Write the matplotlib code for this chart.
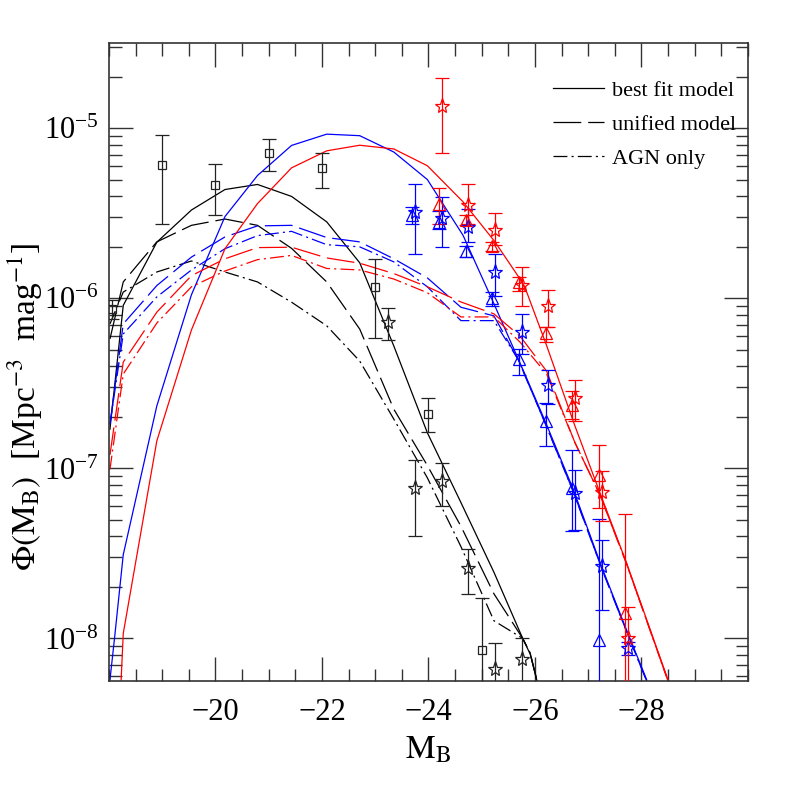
import numpy as np
import matplotlib
matplotlib.use("Agg")
import matplotlib.pyplot as plt
from matplotlib.lines import Line2D
from matplotlib.ticker import FixedLocator, MultipleLocator, LogLocator, LogFormatterMathtext, NullFormatter

plt.rcParams["font.family"] = ["Liberation Serif", "DejaVu Serif"]
plt.rcParams["mathtext.fontset"] = "stix"
plt.rcParams["lines.scale_dashes"] = False

# ---- model curves (M_B, Phi) ----
m_grid = [-18.02, -18.27, -18.90, -19.55, -20.18, -20.79, -21.43, -22.09,
          -22.71, -23.35, -23.98, -24.61, -25.23, -25.77, -25.91, -26.04]
blk_best = [1.70e-7, 9.1e-7, 2.14e-6, 3.31e-6, 4.37e-6, 4.68e-6, 3.98e-6, 2.82e-6,
            1.62e-6, 5.25e-7, 1.62e-7, 6.3e-8, 2.45e-8, 1.0e-8, 8.1e-9, 5.6e-9]
blk_unif = [5.77e-7, 1.25e-6, 2.15e-6, 2.69e-6, 2.93e-6, 2.69e-6, 1.97e-6, 1.25e-6,
            6.6e-7, 2.23e-7, 1.04e-7, 4.57e-8, 1.83e-8, 1.0e-8, 8.2e-9, 5.6e-9]
blk_agn = [7.08e-7, 1.09e-6, 1.43e-6, 1.66e-6, 1.43e-6, 1.25e-6, 9.5e-7, 6.9e-7,
           4.28e-7, 1.95e-7, 8.8e-8, 3.47e-8, 1.27e-8, 1.0e-8, 8.2e-9, 5.6e-9]

m_blue_best = [-18.02, -18.11, -18.27, -18.90, -19.55, -20.18, -20.79, -21.43, -22.09, -22.71,
               -23.35, -23.98, -24.65, -25.23, -25.77, -26.19, -26.72, -27.25, -27.72, -28.10]
blue_best = [5.69e-9, 1.03e-8, 3.11e-8, 2.33e-7, 1.05e-6, 3.03e-6, 5.28e-6, 7.94e-6, 9.25e-6, 9.06e-6,
             7.26e-6, 5.0e-6, 2.35e-6, 9.3e-7, 3.84e-7, 1.90e-7, 7.52e-8, 2.65e-8, 1.12e-8, 5.69e-9]

m_blue_lo = [-18.02, -18.27, -18.90, -19.55, -20.18, -20.79, -21.43, -22.09, -22.71,
             -23.35, -23.98, -24.61, -25.23, -25.69, -26.19, -26.72, -27.25, -27.72, -28.10]
blue_unif = [1.82e-7, 7.08e-7, 1.19e-6, 1.75e-6, 2.30e-6, 2.67e-6, 2.69e-6, 2.28e-6, 2.15e-6,
             1.71e-6, 1.32e-6, 8.87e-7, 7.89e-7, 4.34e-7, 1.85e-7, 7.3e-8, 2.6e-8, 1.1e-8, 5.6e-9]
blue_agn = [1.82e-7, 6.18e-7, 1.02e-6, 1.47e-6, 1.96e-6, 2.34e-6, 2.48e-6, 2.07e-6, 2.01e-6,
            1.64e-6, 1.17e-6, 7.40e-7, 7.40e-7, 4.34e-7, 1.85e-7, 7.3e-8, 2.6e-8, 1.1e-8, 5.6e-9]

m_red_best = [-18.23, -18.27, -18.90, -19.55, -20.18, -20.79, -21.43, -22.09, -22.71, -23.35,
              -23.98, -24.65, -25.25, -25.72, -25.85, -26.22, -26.75, -27.22, -27.72, -28.50]
red_best = [5.69e-9, 1.07e-8, 1.45e-7, 6.52e-7, 1.96e-6, 3.61e-6, 5.86e-6, 7.38e-6, 7.96e-6, 7.57e-6,
            6.03e-6, 3.70e-6, 2.15e-6, 1.30e-6, 1.08e-6, 5.27e-7, 1.78e-7, 7.19e-8, 2.78e-8, 5.69e-9]

m_red_lo = [-18.02, -18.27, -18.90, -19.55, -20.18, -20.79, -21.43, -22.09, -22.71,
            -23.35, -23.98, -24.61, -25.23, -25.72, -26.22, -26.75, -27.22, -27.72, -28.50]
red_unif = [1.20e-7, 4.22e-7, 8.30e-7, 1.36e-6, 1.71e-6, 1.99e-6, 2.0e-6, 1.73e-6, 1.61e-6,
            1.40e-6, 1.17e-6, 9.53e-7, 8.11e-7, 6.0e-7, 3.73e-7, 1.42e-7, 7.0e-8, 2.75e-8, 5.6e-9]
red_agn = [9.86e-8, 3.59e-7, 7.16e-7, 1.17e-6, 1.45e-6, 1.69e-6, 1.79e-6, 1.50e-6, 1.47e-6,
           1.30e-6, 1.08e-6, 7.78e-7, 7.78e-7, 5.53e-7, 3.59e-7, 1.42e-7, 7.0e-8, 2.75e-8, 5.6e-9]

# ---- data points: M, Phi, upper, lower ----
sq_m = [-18.05, -19.0, -20.0, -21.0, -22.0, -23.0, -24.0, -25.0]
sq_phi = [8.7e-7, 6.05e-6, 4.63e-6, 7.15e-6, 5.83e-6, 1.16e-6, 2.10e-7, 8.6e-9]
sq_hi = [9.8e-7, 9.2e-6, 6.15e-6, 8.69e-6, 7.19e-6, 1.71e-6, 2.58e-7, 1.73e-8]
sq_lo = [7.6e-7, 2.75e-6, 3.11e-6, 5.63e-6, 4.49e-6, 5.85e-7, 1.64e-7, 1e-9]

bst_m = [-23.25, -23.75, -24.25, -24.75, -25.25, -25.75]
bst_phi = [7.24e-7, 7.62e-8, 8.41e-8, 2.59e-8, 6.6e-9, 7.6e-9]
bst_hi = [8.75e-7, 1.12e-7, 1.08e-7, 3.37e-8, 9.37e-9, 1.0e-8]
bst_lo = [5.69e-7, 4.03e-8, 6.05e-8, 1.82e-8, 1e-9, 1e-9]

btri_m = [-23.7, -24.2, -24.7, -25.2, -25.7, -26.2, -26.7, -27.2]
btri_phi = [3.08e-6, 2.82e-6, 1.89e-6, 1.0e-6, 4.40e-7, 1.90e-7, 7.62e-8, 9.8e-9]
btri_hi = [3.45e-6, 3.28e-6, 2.04e-6, 1.09e-6, 5.04e-7, 2.44e-7, 1.29e-7, 5.07e-8]
btri_lo = [2.75e-6, 2.57e-6, 1.75e-6, 9.08e-7, 3.54e-7, 1.36e-7, 4.27e-8, 1e-9]

bsta_m = [-23.75, -24.25, -24.75, -25.25, -25.75, -26.25, -26.75, -27.25, -27.75]
bsta_phi = [3.23e-6, 2.97e-6, 2.63e-6, 1.43e-6, 6.32e-7, 3.09e-7, 7.19e-8, 2.65e-8, 8.75e-9]
bsta_hi = [4.74e-6, 3.95e-6, 3.37e-6, 1.83e-6, 8.11e-7, 3.79e-7, 9.77e-8, 3.81e-8, 9.5e-9]
bsta_lo = [1.83e-6, 2.0e-6, 2.15e-6, 1.04e-6, 4.71e-7, 2.39e-7, 4.37e-8, 1.47e-8, 8.0e-9]

rtri_m = [-24.2, -24.7, -25.2, -25.7, -26.2, -26.7, -27.2, -27.7]
rtri_phi = [3.61e-6, 2.90e-6, 2.03e-6, 1.25e-6, 6.25e-7, 2.35e-7, 9.1e-8, 1.41e-8]
rtri_hi = [4.47e-6, 3.08e-6, 2.15e-6, 1.34e-6, 6.76e-7, 2.86e-7, 1.37e-7, 5.36e-8]
rtri_lo = [2.75e-6, 2.69e-6, 1.89e-6, 1.11e-6, 5.52e-7, 1.95e-7, 5.86e-8, 1e-9]

rsta_m = [-24.25, -24.75, -25.25, -25.75, -26.25, -26.75, -27.25, -27.75]
rsta_phi = [1.355e-5, 3.56e-6, 2.54e-6, 1.20e-6, 9.08e-7, 2.58e-7, 7.24e-8, 1.0e-8]
rsta_hi = [1.99e-5, 4.69e-6, 3.18e-6, 1.53e-6, 1.12e-6, 3.30e-7, 9.64e-8, 1.52e-8]
rsta_lo = [7.21e-6, 2.75e-6, 2.05e-6, 9.08e-7, 6.82e-7, 1.90e-7, 4.89e-8, 1e-9]

DASH = (0, (20, 5))
DASHDOT = (0, (10, 3, 1.5, 3))
LW = 0.9


def points(ax, m, phi, hi, lo, marker, color, ms):
    phi = np.array(phi)
    yerr = [phi - np.array(lo), np.array(hi) - phi]
    ax.errorbar(m, phi, yerr=yerr, fmt=marker, mfc="none", mec=color, ecolor=color,
                ms=ms, mew=0.9, elinewidth=0.9, capsize=5, capthick=0.9, zorder=3)


fig = plt.figure(figsize=(7.89, 7.89), dpi=100)
ax = fig.add_axes([0.138, 0.137, 0.810, 0.808])

ax.plot(m_grid, blk_best, color="black", lw=LW)
ax.plot(m_grid, blk_unif, color="black", lw=LW, ls=DASH)
ax.plot(m_grid, blk_agn, color="black", lw=LW, ls=DASHDOT)
ax.plot(m_blue_best, blue_best, color="blue", lw=LW)
ax.plot(m_blue_lo, blue_unif, color="blue", lw=LW, ls=DASH)
ax.plot(m_blue_lo, blue_agn, color="blue", lw=LW, ls=DASHDOT)
ax.plot(m_red_best, red_best, color="red", lw=LW)
ax.plot(m_red_lo, red_unif, color="red", lw=LW, ls=DASH)
ax.plot(m_red_lo, red_agn, color="red", lw=LW, ls=DASHDOT)

points(ax, sq_m, sq_phi, sq_hi, sq_lo, "s", "#222222", 6)
points(ax, bst_m, bst_phi, bst_hi, bst_lo, "*", "#222222", 11)
points(ax, btri_m, btri_phi, btri_hi, btri_lo, "^", "blue", 8)
points(ax, bsta_m, bsta_phi, bsta_hi, bsta_lo, "*", "blue", 11)
points(ax, rtri_m, rtri_phi, rtri_hi, rtri_lo, "^", "red", 8)
points(ax, rsta_m, rsta_phi, rsta_hi, rsta_lo, "*", "red", 11)

ax.set_yscale("log")
ax.set_xlim(-18, -30)
ax.set_ylim(10 ** -8.25, 10 ** -4.5)

ax.xaxis.set_major_locator(FixedLocator([-20, -22, -24, -26, -28]))
ax.xaxis.set_minor_locator(MultipleLocator(0.5))
ax.yaxis.set_major_locator(LogLocator(base=10))
ax.yaxis.set_minor_locator(LogLocator(base=10, subs=np.arange(2, 10)))
ax.yaxis.set_major_formatter(LogFormatterMathtext())
ax.yaxis.set_minor_formatter(NullFormatter())

ax.tick_params(which="both", direction="in", top=True, right=True, color="#333333", width=1.0)
ax.tick_params(which="major", length=17, labelsize=22)
ax.tick_params(which="minor", length=9)
ax.tick_params(axis="x", which="major", pad=12)
ax.tick_params(axis="y", which="major", pad=7)
for s in ax.spines.values():
    s.set_color("#333333")
    s.set_linewidth(1.2)

ax.set_xlabel(r"$\mathrm{M_B}$", fontsize=24, labelpad=6)
ax.set_ylabel(r"$\Phi(\mathrm{M_B})$  [Mpc$^{-3}$  mag$^{-1}$]", fontsize=24)
ax.yaxis.set_label_coords(-0.10, 0.43)

handles = [Line2D([], [], color="black", lw=LW),
           Line2D([], [], color="black", lw=LW, ls=DASH),
           Line2D([], [], color="black", lw=LW, ls=DASHDOT)]
ax.legend(handles, ["best fit model", "unified model", "AGN only"], loc="upper left",
          bbox_to_anchor=(0.695, 0.942), frameon=False, fontsize=16,
          handlelength=2.3, handletextpad=0.35, labelspacing=0.6, borderpad=0, borderaxespad=0)

fig.savefig("out.png", dpi=100)
